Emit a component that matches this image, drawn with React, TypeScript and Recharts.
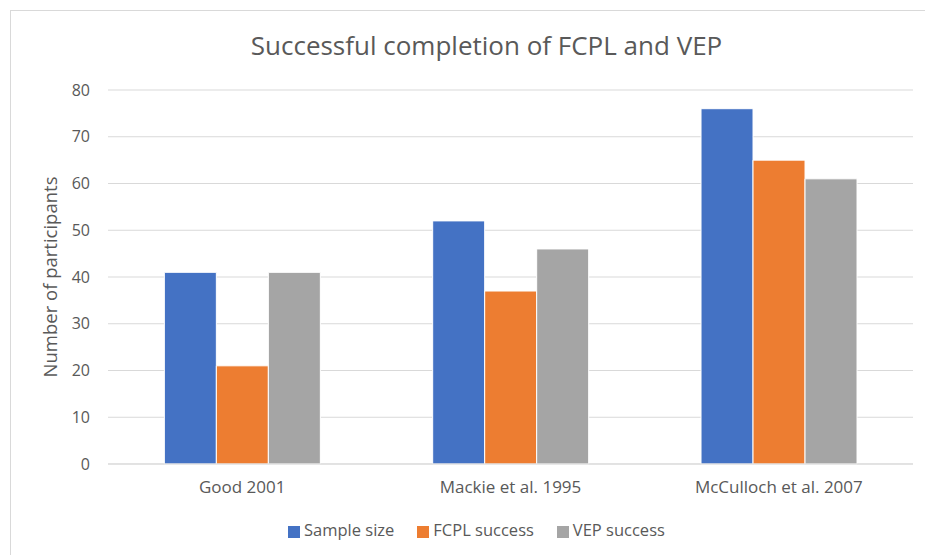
import { Bar, BarChart, CartesianGrid, Legend, XAxis, YAxis } from "recharts";

const studies = ["Good 2001", "Mackie et al. 1995", "McCulloch et al. 2007"];
const sampleSize = [41, 52, 76];
const fcplSuccess = [21, 37, 65];
const vepSuccess = [41, 46, 61];
const yTicks = [0, 10, 20, 30, 40, 50, 60, 70, 80];
const seriesOrder = ["Sample size", "FCPL success", "VEP success"];

const rows = studies.map((study, i) => ({
  study,
  sample: sampleSize[i],
  fcpl: fcplSuccess[i],
  vep: vepSuccess[i],
}));

const FONT = "'Open Sans', sans-serif";
const INK = "#595959";

export default function App() {
  return (
    <div
      style={{
        position: "absolute",
        left: 0,
        top: 0,
        width: 925,
        height: 555,
        background: "#fff",
        overflow: "hidden",
        fontFamily: FONT,
      }}
    >
      <div
        style={{
          position: "absolute",
          left: 10,
          top: 10,
          width: 940,
          height: 600,
          border: "1px solid #d9d9d9",
        }}
      />
      <div
        style={{
          position: "absolute",
          top: 27,
          left: 24,
          width: 925,
          textAlign: "center",
          fontSize: 26,
          lineHeight: "36px",
          color: INK,
        }}
      >
        Successful completion of FCPL and VEP
      </div>
      <div style={{ position: "absolute", left: 0, top: 0 }}>
        <BarChart
          width={925}
          height={555}
          data={rows}
          margin={{ top: 90, right: 12, bottom: 14, left: 0 }}
          barCategoryGap="21%"
          barGap={0}
        >
          <CartesianGrid vertical={false} stroke="#d9d9d9" strokeWidth={1} />
          <XAxis
            dataKey="study"
            height={54}
            axisLine={{ stroke: "#d9d9d9" }}
            tickLine={false}
            tickSize={0}
            tickMargin={17}
            tick={{ fill: INK, fontSize: 17, fontFamily: FONT }}
          />
          <YAxis
            width={108}
            domain={[0, 80]}
            ticks={yTicks}
            axisLine={false}
            tickLine={false}
            tickSize={0}
            tickMargin={18}
            tick={{ fill: INK, fontSize: 16, fontFamily: FONT }}
            label={{
              value: "Number of participants",
              angle: -90,
              position: "insideLeft",
              offset: 50,
              style: { textAnchor: "middle", fill: INK, fontSize: 18.5, fontFamily: FONT },
            }}
          />
          <Legend
            verticalAlign="bottom"
            align="left"
            iconType="square"
            iconSize={12}
            itemSorter={(item) => seriesOrder.indexOf(String(item.value))}
            wrapperStyle={{ left: 288, width: 600, fontSize: 16.5, fontFamily: FONT }}
            formatter={(value) => <span style={{ color: INK, marginRight: 13 }}>{value}</span>}
          />
          <Bar dataKey="sample" name="Sample size" fill="#4472c4" stroke="#fff" strokeWidth={1} isAnimationActive={false} />
          <Bar dataKey="fcpl" name="FCPL success" fill="#ed7d31" stroke="#fff" strokeWidth={1} isAnimationActive={false} />
          <Bar dataKey="vep" name="VEP success" fill="#a5a5a5" stroke="#fff" strokeWidth={1} isAnimationActive={false} />
        </BarChart>
      </div>
    </div>
  );
}
